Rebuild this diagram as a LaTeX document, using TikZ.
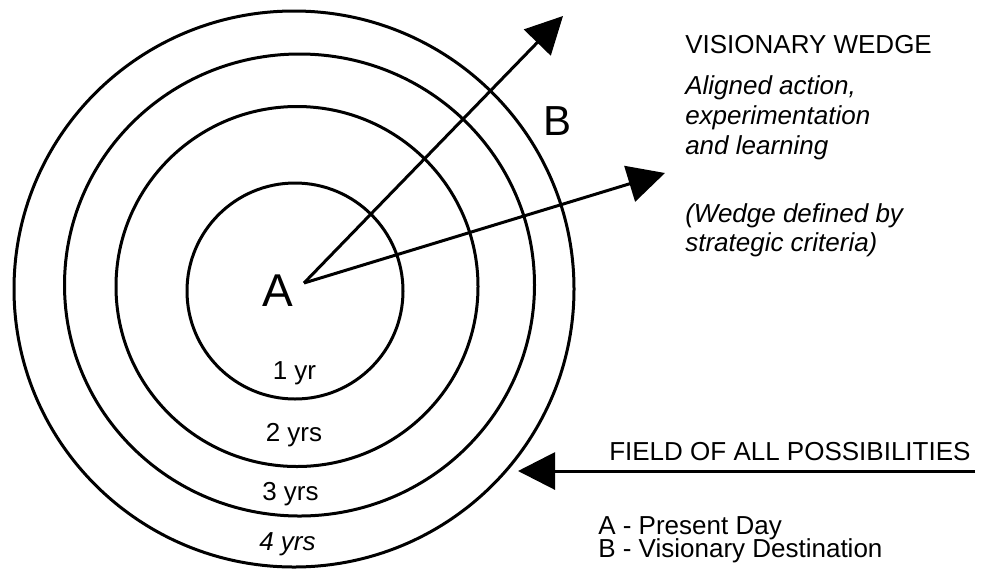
\documentclass[tikz,border=0pt]{standalone}
\usepackage{fontspec}
\setmainfont{Liberation Sans}
\usetikzlibrary{arrows.meta}
\begin{document}
\begin{tikzpicture}[x=0.75pt,y=-0.75pt,
  ring/.style={line width=2.25pt},
  pointer/.style={line width=2.25pt,-{Triangle[length=27.75pt,width=27.75pt]}},
  small/.style={font=\fontsize{19.5pt}{23pt}\selectfont, inner sep=0pt},
  txt/.style={small, anchor=base west},
  yrs/.style={small, anchor=base},
  big/.style={inner sep=0pt, anchor=base}]
\useasboundingbox (0,0) rectangle (981,569);

% time horizons
\draw[ring] (295,291) ellipse [x radius=108, y radius=108];
\draw[ring] (297,286.5) ellipse [x radius=181, y radius=180];
\draw[ring] (299.5,285) ellipse [x radius=235, y radius=231];
\draw[ring] (294,289) ellipse [x radius=280, y radius=278];

\node[yrs] (y1) at (294.5,379) {1 yr};
\node[yrs] (y2) at (294,441) {2 yrs};
\node[yrs] (y3) at (290.5,500) {3 yrs};
\node[yrs] (y4) at (287.5,550) {\itshape 4 yrs};

% present day and destination
\node[big, font=\fontsize{34.5pt}{40pt}\selectfont] (A) at (278,306) {A};
\node[big, font=\fontsize{31.5pt}{36pt}\selectfont] (B) at (557,135) {B};

% the visionary wedge
\coordinate (O) at (304,283);
\coordinate (w1) at (563,16);
\coordinate (w2) at (665,173);
\draw[pointer] (O) -- (w1);
\draw[pointer] (O) -- (w2);

\node[txt] (t0) at (685,53) {VISIONARY WEDGE};
\node[txt] (t1) at (685,94) {\itshape Aligned action,};
\node[txt] (t2) at (685,124) {\itshape experimentation};
\node[txt] (t3) at (685,154) {\itshape and learning};
\node[txt] (t4) at (685,222) {\itshape (Wedge defined by};
\node[txt] (t5) at (685,251) {\itshape strategic criteria)};

% field of all possibilities
\coordinate (f0) at (975,471);
\coordinate (f1) at (518,471);
\draw[pointer] (f0) -- (f1);
\node[txt] (field) at (609,460) {FIELD OF ALL POSSIBILITIES};

\node[txt] (kA) at (598,534) {A - Present Day};
\node[txt] (kB) at (598,557) {B - Visionary Destination};
\end{tikzpicture}
\end{document}
